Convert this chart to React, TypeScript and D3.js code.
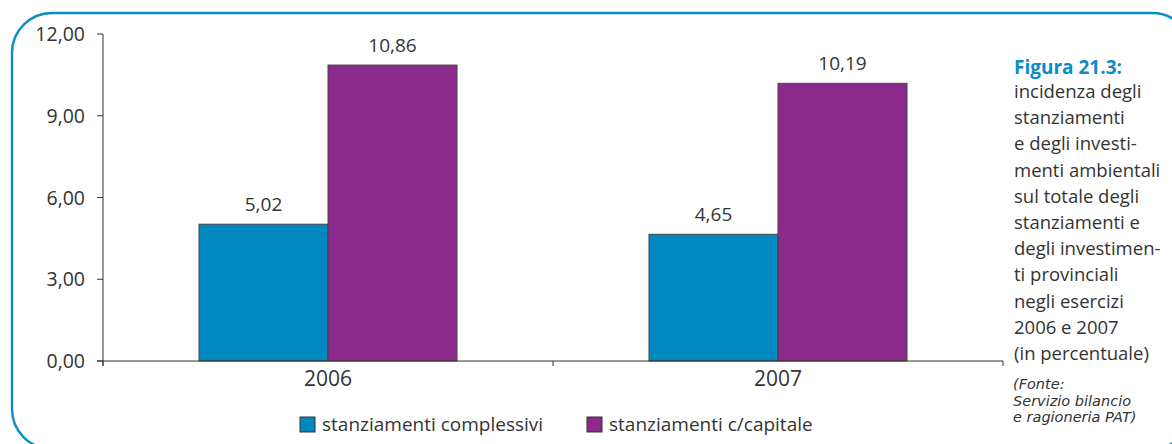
import * as d3 from 'd3';

const years = ['2006', '2007'];
const seriesNames = ['stanziamenti complessivi', 'stanziamenti c/capitale'];
const complessivi = [5.02, 4.65];
const capitale = [10.86, 10.19];
const yTicks = [0, 3, 6, 9, 12];
const captionTitle = 'Figura 21.3:';
const captionLines = [
  'incidenza degli',
  'stanziamenti',
  'e degli investi-',
  'menti ambientali',
  'sul totale degli',
  'stanziamenti e',
  'degli investimen-',
  'ti provinciali',
  'negli esercizi',
  '2006 e 2007',
  '(in percentuale)',
];
const sourceLines = ['(Fonte:', 'Servizio bilancio', 'e ragioneria PAT)'];

const W = 1172;
const H = 444;
const BLUE = '#0089c1';
const PURPLE = '#8b2a8b';
const FRAME = '#0a8cc4';
const INK = '#333333';
const FONT = '"Open Sans", "DejaVu Sans", sans-serif';

const fmt = (v: number) => v.toFixed(2).replace('.', ',');

export default function App() {
  const x0 = d3.scaleBand<string>().domain(years).range([103, 1003]).padding(0);
  const x1 = d3.scaleBand<string>().domain(seriesNames).range([0, 258]);
  const y = d3.scaleLinear().domain([0, 12]).range([361, 34]);
  const colors = d3.scaleOrdinal<string, string>().domain(seriesNames).range([BLUE, PURPLE]);

  const rows = years.map((yr, i) => ({ year: yr, values: [complessivi[i], capitale[i]] }));
  const groupOffset = (x0.bandwidth() - 258) / 2;

  // cornice arrotondata
  const fx = 12, fy = 13, fr = 40, fw = 1180, fh = 436;
  const framePath = d3.path();
  framePath.moveTo(fx + fr, fy);
  framePath.lineTo(fx + fw - fr, fy);
  framePath.arcTo(fx + fw, fy, fx + fw, fy + fr, fr);
  framePath.lineTo(fx + fw, fy + fh - fr);
  framePath.arcTo(fx + fw, fy + fh, fx + fw - fr, fy + fh, fr);
  framePath.lineTo(fx + fr, fy + fh);
  framePath.arcTo(fx, fy + fh, fx, fy + fh - fr, fr);
  framePath.lineTo(fx, fy + fr);
  framePath.arcTo(fx, fy, fx + fr, fy, fr);

  const [r0, r1] = x0.range();

  return (
    <svg
      width={W}
      height={H}
      style={{ position: 'absolute', left: 0, top: 0, background: '#fff' }}
      fontFamily={FONT}
    >
      <path d={framePath.toString()} fill="none" stroke={FRAME} strokeWidth={2.4} />

      {/* barre */}
      {rows.map(r => (
        <g key={r.year} transform={`translate(${(x0(r.year) ?? 0) + groupOffset},0)`}>
          {r.values.map((v, j) => {
            const bx = x1(seriesNames[j]) ?? 0;
            return (
              <g key={j}>
                <rect
                  x={bx}
                  y={y(v)}
                  width={x1.bandwidth()}
                  height={y(0) - y(v)}
                  fill={colors(seriesNames[j])}
                  stroke="#444"
                  strokeWidth={1}
                />
                <text
                  x={bx + x1.bandwidth() / 2}
                  y={y(v) - 13}
                  textAnchor="middle"
                  fontSize={19}
                  fill={INK}
                >
                  {fmt(v)}
                </text>
              </g>
            );
          })}
        </g>
      ))}

      {/* asse y */}
      <line x1={r0} x2={r0} y1={y(12)} y2={y(0) + 5} stroke={INK} strokeWidth={1} />
      {yTicks.map(t => (
        <g key={t}>
          <line x1={r0 - 6} x2={r0} y1={y(t)} y2={y(t)} stroke={INK} strokeWidth={1} />
          <text x={85} y={y(t) + 7} textAnchor="end" fontSize={19.5} fill={INK}>
            {fmt(t)}
          </text>
        </g>
      ))}

      {/* asse x */}
      <line x1={r0 - 6} x2={r1} y1={y(0)} y2={y(0)} stroke={INK} strokeWidth={1} />
      {[...years.map(yr => x0(yr) ?? 0), r1].map((tx, i) => (
        <line key={i} x1={tx} x2={tx} y1={y(0)} y2={y(0) + 5} stroke={INK} strokeWidth={1} />
      ))}
      {years.map(yr => (
        <text
          key={yr}
          x={(x0(yr) ?? 0) + x0.bandwidth() / 2}
          y={386}
          textAnchor="middle"
          fontSize={21}
          fill={INK}
        >
          {yr}
        </text>
      ))}

      {/* legenda */}
      {seriesNames.map((s, i) => {
        const lx = i === 0 ? 300 : 587;
        return (
          <g key={s}>
            <rect x={lx} y={417} width={15} height={15} fill={colors(s)} stroke="#333" strokeWidth={1} />
            <text x={lx + 22} y={431} fontSize={19} fill={INK}>
              {s}
            </text>
          </g>
        );
      })}

      {/* didascalia */}
      <text x={1014} y={74} fontSize={18.5} fill={INK}>
        <tspan x={1014} fontSize={19} fontWeight="bold" fill={FRAME}>
          {captionTitle}
        </tspan>
        {captionLines.map((l, i) => (
          <tspan key={i} x={1014} dy={i === 0 ? 24 : 26.2}>
            {l}
          </tspan>
        ))}
      </text>
      <text
        x={1013}
        y={389}
        fontSize={14.5}
        fontStyle="italic"
        fontFamily='"DejaVu Sans", sans-serif'
        fill={INK}
      >
        {sourceLines.map((l, i) => (
          <tspan key={i} x={1013} dy={i === 0 ? 0 : 16.5}>
            {l}
          </tspan>
        ))}
      </text>
    </svg>
  );
}
